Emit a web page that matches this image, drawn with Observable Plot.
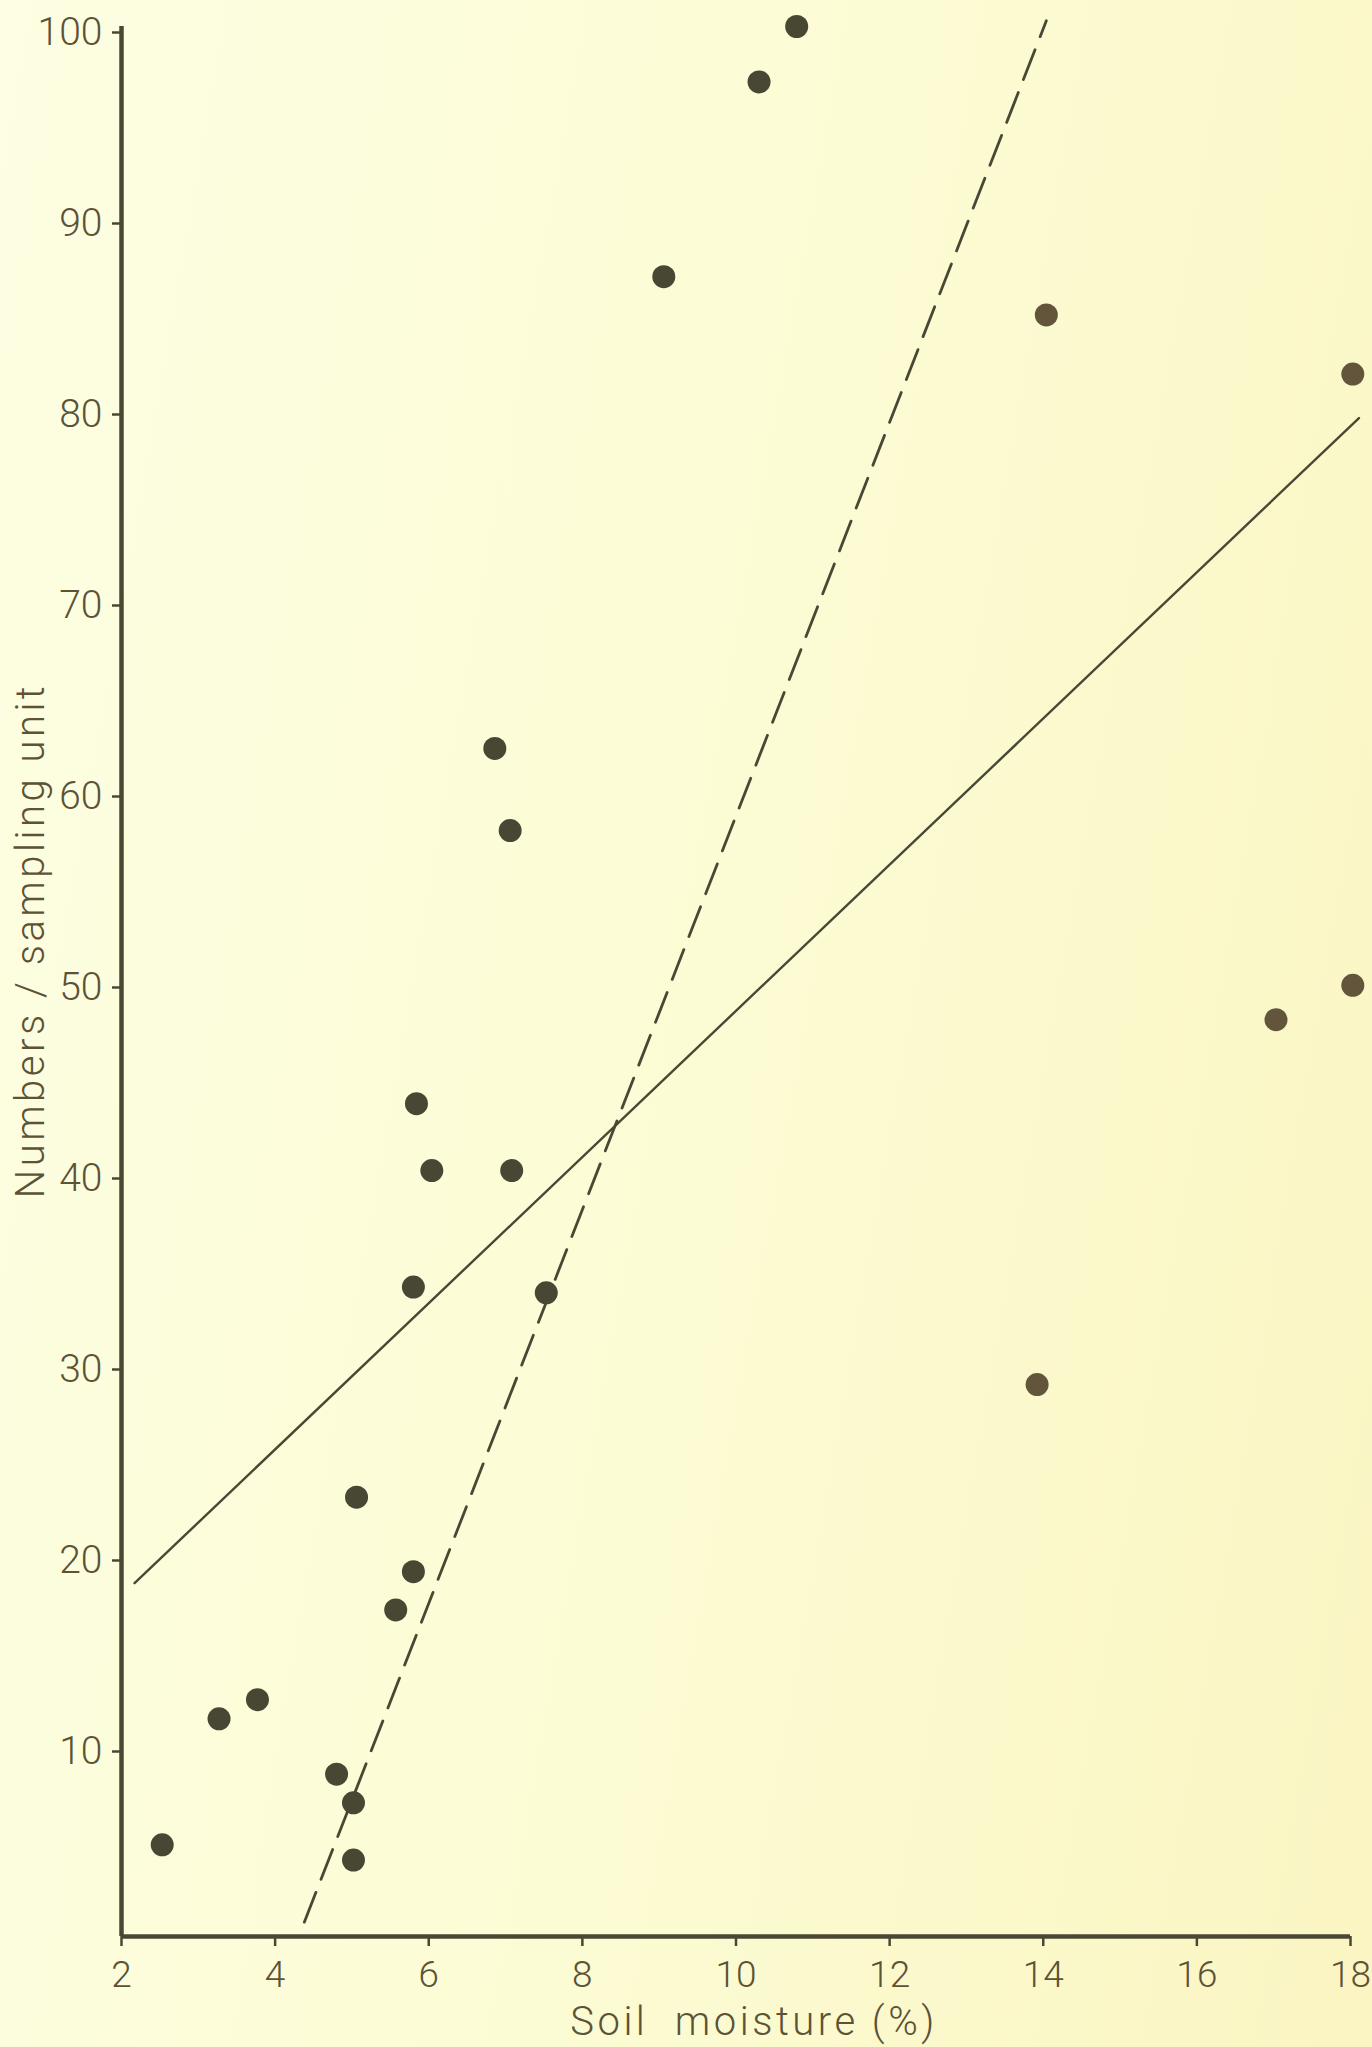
<!DOCTYPE html>
<html>
<head>
<meta charset="utf-8">
<script src="https://cdn.jsdelivr.net/npm/d3@7"></script>
<script src="https://cdn.jsdelivr.net/npm/@observablehq/plot@0.6"></script>
<style>
  html, body { margin: 0; padding: 0; }
  body {
    width: 1372px; height: 2047px; overflow: hidden;
    background: linear-gradient(100deg, #fdfee2 0%, #fcfcd6 45%, #faf5c2 100%);
  }
</style>
</head>
<body>
<div id="chart"></div>
<script>
// Soil moisture (%) and numbers per sampling unit
const moisture = [2.53, 3.27, 3.77, 4.80, 5.02, 5.02, 5.06, 5.57, 5.80, 5.80, 5.84, 6.04,
                  6.86, 7.06, 7.08, 7.53, 9.06, 10.30, 10.79, 14.04, 13.92, 17.03, 18.03, 18.03];
const numbers  = [4.8, 11.4, 12.4, 8.5, 7.0, 4.0, 23.0, 17.1, 19.1, 34.0, 43.6, 40.1,
                  62.2, 57.9, 40.1, 33.7, 86.9, 97.1, 100.0, 84.9, 28.9, 48.0, 49.8, 81.8];

// Fitted lines (end points as drawn)
const solidLineX  = [2.17, 18.11];
const solidLineY  = [18.5, 79.5];
const dashedLineX = [4.38, 14.04];
const dashedLineY = [0.75, 100.3];

const xTicks = [2, 4, 6, 8, 10, 12, 14, 16, 18];
const yTicks = [10, 20, 30, 40, 50, 60, 70, 80, 90, 100];

const xLabel = "Soil  moisture (%)";
const yLabel = "Numbers / sampling unit";

const points = moisture.map((m, i) => ({x: m, y: numbers[i]}));
const solid = solidLineX.map((v, i) => ({x: v, y: solidLineY[i]}));
const dashed = dashedLineX.map((v, i) => ({x: v, y: dashedLineY[i]}));

const ink = "#4a4834";
const textInk = "#5c5236";

const chart = Plot.plot({
  width: 1372,
  height: 2047,
  marginLeft: 121,
  marginRight: 22,
  marginTop: 26,
  marginBottom: 111,
  style: {background: "transparent", fontFamily: "Roboto, 'DejaVu Sans', sans-serif", color: textInk},
  x: {domain: [2, 18]},
  y: {domain: [0, 100]},
  marks: [
    Plot.line(solid, {x: "x", y: "y", stroke: ink, strokeWidth: 2.4}),
    Plot.line(dashed, {x: "x", y: "y", stroke: ink, strokeWidth: 2.8, strokeDasharray: "32,14"}),
    Plot.dot(points, {x: "x", y: "y", r: 11.5, fill: d => d.x > 13 ? "#62553c" : "#484733", stroke: "none"}),
    Plot.ruleX([2], {y1: 0, y2: 100, stroke: ink, strokeWidth: 4.5}),
    Plot.ruleY([0], {x1: 2, x2: 18, stroke: ink, strokeWidth: 4.5}),
    Plot.axisX({ticks: xTicks, tickSize: 10, tickPadding: 14, tickFormat: d => String(d),
                label: null, fontSize: 37, fontWeight: 300, stroke: ink, strokeWidth: 2.5, fill: textInk}),
    Plot.axisY({ticks: yTicks, tickSize: 9, tickPadding: 10, tickFormat: d => String(d),
                label: null, fontSize: 39, fontWeight: 300, dy: 6, stroke: ink, strokeWidth: 2.5, fill: textInk}),
    Plot.text([xLabel], {frameAnchor: "bottom", dx: 18, dy: 86, fontSize: 40, fontWeight: 300, fill: textInk,
                         textAnchor: "middle", lineAnchor: "middle"}),
    Plot.text([yLabel], {frameAnchor: "left", dx: -90, dy: -41, rotate: -90, fontSize: 40, fontWeight: 300, fill: textInk,
                         textAnchor: "middle", lineAnchor: "middle"})
  ]
});
document.getElementById("chart").append(chart);
// widen the axis titles to match the lettering of the original
d3.select(chart).selectAll("text").filter(function() {
  const t = this.textContent;
  return t === xLabel || t === yLabel;
}).style("letter-spacing", "3.5px");
</script>
</body>
</html>
